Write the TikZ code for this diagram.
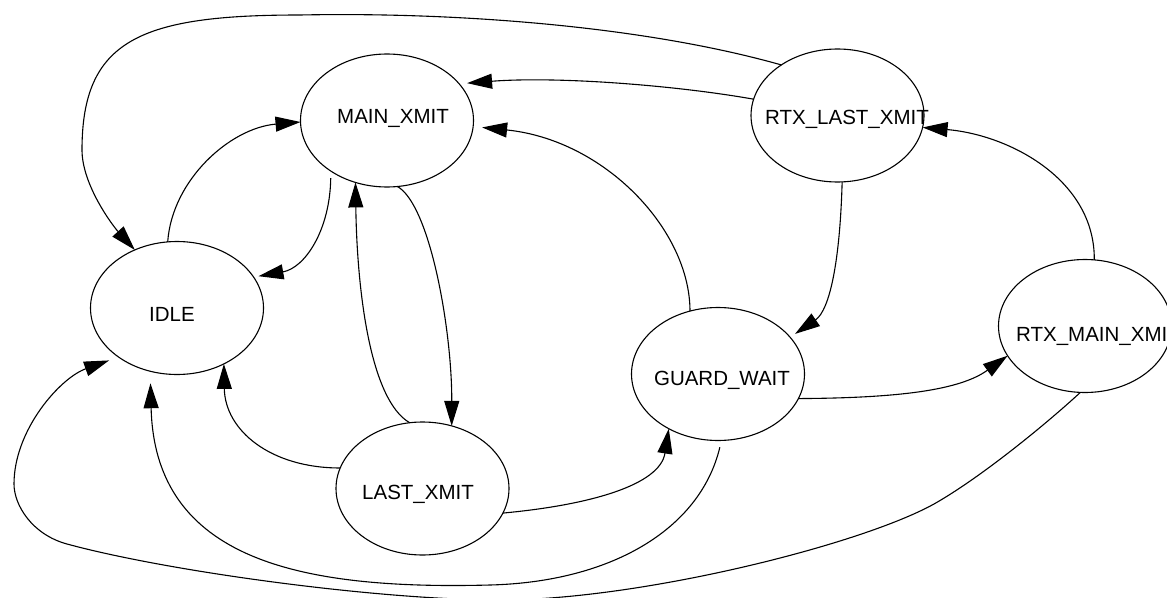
\documentclass[tikz,border=0pt]{standalone}
\usepackage{fontspec}
\setmainfont{Liberation Sans}
\usetikzlibrary{arrows.meta,shapes.geometric}
\newcommand\statelabel[3]{\raisebox{#2}[0pt][0pt]{\makebox[0pt]{\kern#1\relax#3}}}
\begin{document}
\begin{tikzpicture}[x=1pt,y=-1pt,
  state/.style={ellipse, draw, line width=1.1pt, minimum width=173pt, minimum height=133pt,
    inner sep=0pt, outer sep=0pt, font=\fontsize{20.5}{24}\selectfont},
  edge/.style={draw, line width=1.1pt, -{Triangle[length=25pt,width=15pt]}}]
\useasboundingbox (0,0) rectangle (1167,597);
\clip (0,0) rectangle (1167,597);
\fill[white] (0,0) rectangle (1167,597);

\node[state] (idle)  at (177,308)     {\statelabel{-10pt}{-13.3pt}{IDLE}};
\node[state] (main)  at (387,120.5)   {\statelabel{12pt}{-3.3pt}{MAIN\_XMIT}};
\node[state] (rtxl)  at (837.5,115.5) {\statelabel{19pt}{-9.3pt}{RTX\_LAST\_XMIT}};
\node[state] (guard) at (718,374)     {\statelabel{8pt}{-11.3pt}{GUARD\_WAIT}};
\node[state] (rtxm)  at (1085,326)    {\statelabel{26pt}{-15.8pt}{RTX\_MAIN\_XMIT}};
\node[state] (last)  at (422.5,488.5) {\statelabel{-9pt}{-10.8pt}{LAST\_XMIT}};

% RTX_LAST_XMIT -> IDLE (top loop)
\draw[edge] (rtxl.138) .. controls (640,25) and (450,12) .. (300,15)
  .. controls (140,15) and (82,40) .. (82,150)
  .. controls (82,185) and (113,226) .. (idle.126);
% IDLE -> MAIN_XMIT
\draw[edge] (idle.98) .. controls (172,180) and (230,128) .. (main.181);
% MAIN_XMIT -> IDLE
\draw[edge, shorten <=7pt, shorten >=5pt] (main.222) .. controls (330,230) and (305,268) .. (idle.22);
% LAST_XMIT -> MAIN_XMIT
\draw[edge] (last.101) .. controls (370,400) and (357,290) .. (main.243);
% MAIN_XMIT -> LAST_XMIT
\draw[edge] (main.279) .. controls (430,205) and (452,330) .. (last.65);
% RTX_LAST_XMIT -> MAIN_XMIT
\draw[edge, shorten >=8pt] (rtxl.169) .. controls (680,86) and (560,76) .. (main.27);
% GUARD_WAIT -> MAIN_XMIT
\draw[edge, shorten >=9pt] (guard.114) .. controls (690,230) and (605,140) .. (main.356);
% RTX_LAST_XMIT -> GUARD_WAIT
\draw[edge, shorten >=6pt] (rtxl.274) .. controls (840,260) and (830,310) .. (guard.27);
% LAST_XMIT -> GUARD_WAIT
\draw[edge] (last.343) .. controls (590,505) and (660,485) .. (guard.228);
% GUARD_WAIT -> RTX_MAIN_XMIT
\draw[edge] (guard.343) .. controls (900,398) and (960,390) .. (rtxm.201);
% GUARD_WAIT -> IDLE
\draw[edge, shorten <=7pt, shorten >=12pt] (guard.273) .. controls (700,530) and (610,582) .. (490,585)
  .. controls (300,590) and (155,560) .. (idle.247);
% LAST_XMIT -> IDLE
\draw[edge] (last.166) .. controls (270,468) and (225,430) .. (idle.310);
% RTX_MAIN_XMIT -> RTX_LAST_XMIT
\draw[edge] (rtxm.82) .. controls (1095,180) and (1010,135) .. (rtxl.352);
% RTX_MAIN_XMIT -> IDLE (bottom loop)
\draw[edge, shorten >=10pt] (rtxm.266) .. controls (1045,425) and (980,478) .. (934,504)
  .. controls (860,545) and (640,600) .. (500,600)
  .. controls (380,600) and (170,572) .. (67,544)
  .. controls (32,534.5) and (14,505) .. (14,484)
  .. controls (14,430) and (60,378) .. (idle.220);
\end{tikzpicture}
\end{document}
